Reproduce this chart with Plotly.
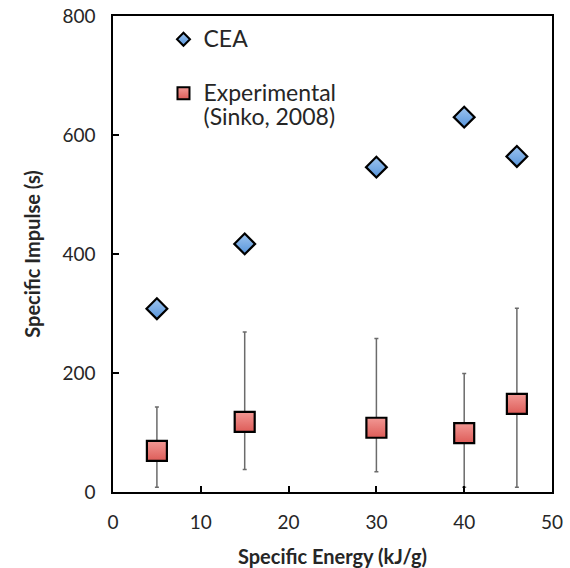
import plotly.graph_objects as go

energy = [5, 15, 30, 40, 46]
cea_isp = [308, 417, 546, 630, 564]
exp_isp = [69, 118, 108, 99, 148]
exp_err_plus = [74, 151, 150, 100, 161]
exp_err_minus = [61, 80, 74, 91, 140]

x_ticks = [0, 10, 20, 30, 40, 50]
y_ticks = [0, 200, 400, 600, 800]

FONT = "Lato"
TXT = "#262626"

blue_top, blue_bot = "#9EC5F0", "#5794DA"
red_top, red_bot = "#F29894", "#DD5C58"

def big(s):
    return "<span style='font-size:23px'>" + s + "</span>"

fig = go.Figure()

# data traces (not in legend)
fig.add_trace(go.Scatter(
    x=energy, y=exp_isp, mode="markers", showlegend=False,
    error_y=dict(type="data", symmetric=False, array=exp_err_plus,
                 arrayminus=exp_err_minus, color="#6b6b6b", thickness=1.5, width=2),
    marker=dict(symbol="square", size=20, color=red_top,
                gradient=dict(type="vertical", color=red_bot),
                line=dict(color="black", width=2.2)),
))
fig.add_trace(go.Scatter(
    x=energy, y=cea_isp, mode="markers", showlegend=False,
    marker=dict(symbol="diamond", size=16, color=blue_top,
                gradient=dict(type="vertical", color=blue_bot),
                line=dict(color="black", width=2.2)),
))

# legend entries
fig.add_trace(go.Scatter(
    x=[None], y=[None], mode="markers", name=big("CEA"), legendgroup="a",
    marker=dict(symbol="diamond", size=10, color=blue_top,
                gradient=dict(type="vertical", color=blue_bot),
                line=dict(color="black", width=2)),
))
fig.add_trace(go.Scatter(
    x=[None], y=[None], mode="markers",
    name=big("Experimental") + "<br>" + big("(Sinko, 2008)"),
    legendgroup="b",
    marker=dict(symbol="square", size=12, color=red_top,
                gradient=dict(type="vertical", color=red_bot),
                line=dict(color="black", width=2)),
))

fig.update_layout(
    width=570, height=568,
    margin=dict(l=113, r=18, t=16, b=76),
    paper_bgcolor="white", plot_bgcolor="white",
    font=dict(family=FONT, size=19, color=TXT),
    showlegend=True,
    legend=dict(x=0.115, y=0.99, xanchor="left", yanchor="top",
                traceorder="grouped", bgcolor="rgba(0,0,0,0)", valign="top",
                font=dict(family=FONT, size=18.5, color=TXT),
                itemwidth=30, tracegroupgap=27, itemsizing="trace"),
    xaxis=dict(range=[0, 50], tickvals=x_ticks, ticks="inside", ticklen=6,
               tickwidth=1.5, tickcolor="black", showgrid=False, zeroline=False,
               showline=True, linecolor="black", linewidth=1.5, mirror=True,
               automargin=False, ticklabelstandoff=12, ticklabeloverflow="allow",
               title=dict(text="<b>Specific Energy (kJ/g)</b>", standoff=21,
                          font=dict(family=FONT, size=20, color=TXT)),
               tickfont=dict(family=FONT, size=19, color=TXT)),
    yaxis=dict(range=[0, 800], tickvals=y_ticks, ticks="inside", ticklen=6,
               tickwidth=1.5, tickcolor="black", showgrid=False, zeroline=False,
               showline=True, linecolor="black", linewidth=1.5, mirror=True,
               automargin=False, ticklabelstandoff=12, ticklabeloverflow="allow",
               title=dict(text="<b>Specific Impulse (s)</b>", standoff=16,
                          font=dict(family=FONT, size=20, color=TXT)),
               tickfont=dict(family=FONT, size=19, color=TXT)),
)

fig.write_html("out.html", config={"displayModeBar": False},
               post_script="document.body.style.margin='0';document.documentElement.style.overflow='hidden';")
